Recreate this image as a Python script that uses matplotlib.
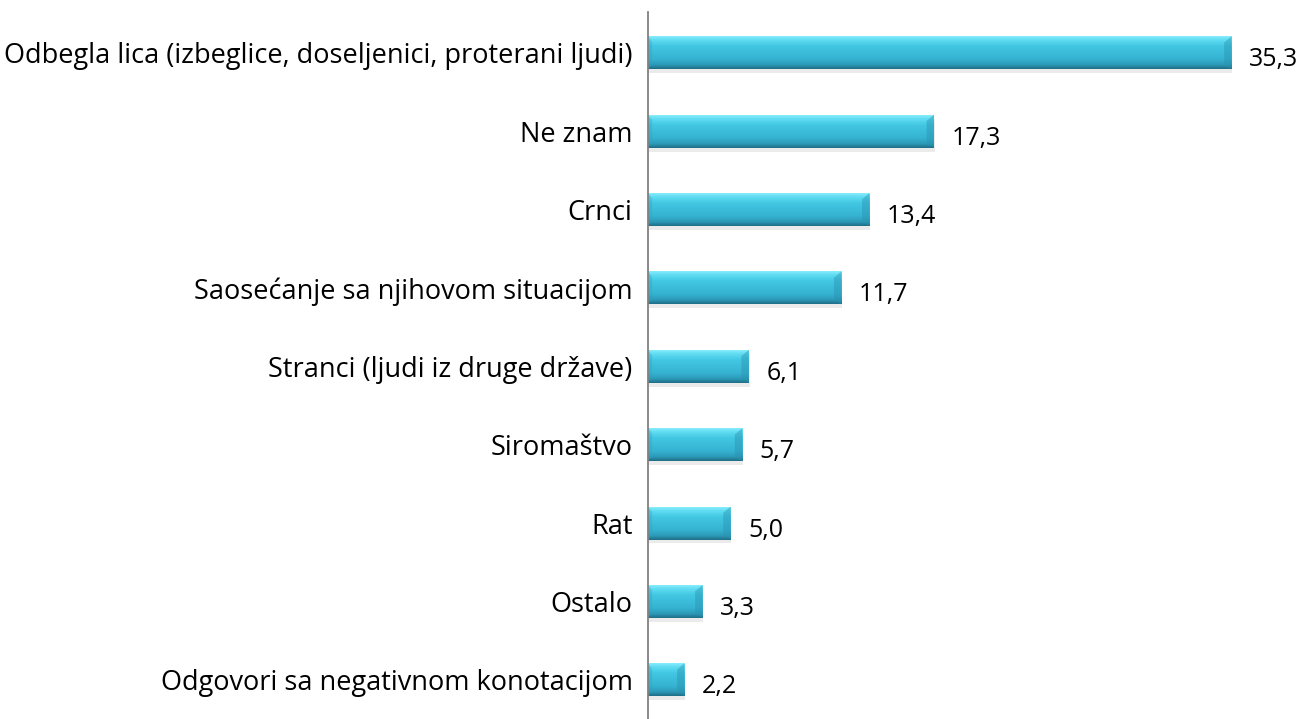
import numpy as np
import matplotlib.pyplot as plt
from matplotlib.colors import LinearSegmentedColormap
from matplotlib.patches import Polygon, Rectangle

# podaci
categories = [
    "Odbegla lica (izbeglice, doseljenici, proterani ljudi)",
    "Ne znam",
    "Crnci",
    "Saosećanje sa njihovom situacijom",
    "Stranci (ljudi iz druge države)",
    "Siromaštvo",
    "Rat",
    "Ostalo",
    "Odgovori sa negativnom konotacijom",
]
values = [35.3, 17.3, 13.4, 11.7, 6.1, 5.7, 5.0, 3.3, 2.2]
value_labels = ["35,3", "17,3", "13,4", "11,7", "6,1", "5,7", "5,0", "3,3", "2,2"]

plt.rcParams['font.family'] = ['Open Sans', 'DejaVu Sans']

fig = plt.figure(figsize=(13.01, 7.19), dpi=100)
ax = fig.add_axes([648 / 1301, 0, 1 - 648 / 1301, 707 / 719])

bar_cmap = LinearSegmentedColormap.from_list(
    "bar", [(0.0, "#86edfc"), (0.1, "#62ddf3"), (0.3, "#42c7e3"),
            (0.7, "#35b3d1"), (0.88, "#2c99b7"), (1.0, "#1f6f87")])
grad = np.linspace(0, 1, 64).reshape(-1, 1)

h = 0.42
ypos = np.arange(len(values))
for y, v, lab in zip(ypos, values, value_labels):
    top, bot = y - h / 2, y + h / 2
    # senka
    ax.add_patch(Rectangle((0.05, top + 0.05), v, h, color="#000000",
                           alpha=0.08, lw=0, zorder=1))
    ax.imshow(grad, cmap=bar_cmap, aspect="auto",
              extent=(0, v, bot, top), zorder=2, interpolation="bicubic")
    # kosi krajevi
    bw = min(0.45, v * 0.2)
    ax.add_patch(Polygon([(v - bw, top + 0.08), (v, top), (v, bot), (v - bw, bot - 0.06)],
                         closed=True, color="#2a93b0", alpha=0.45, lw=0, zorder=3))
    ax.add_patch(Polygon([(0, top), (0.25, top + 0.07), (0.25, bot - 0.06), (0, bot)],
                         closed=True, color="#2fa3c2", alpha=0.35, lw=0, zorder=3))
    ax.text(v + 1.05, y + 0.09, lab, va="center", ha="left", fontsize=18, color="#000000")

ax.set_xlim(0, 39.5)
ax.set_ylim(8.5, -0.52)
ax.set_yticks(ypos)
ax.set_yticklabels(categories, fontsize=19.5)
ax.tick_params(axis="y", length=0, pad=11)
ax.set_xticks([])
for s in ["top", "right", "bottom"]:
    ax.spines[s].set_visible(False)
ax.spines["left"].set_color("#808080")
ax.spines["left"].set_linewidth(1.3)
ax.spines["left"].set_zorder(5)

fig.savefig("out.png", dpi=100)
